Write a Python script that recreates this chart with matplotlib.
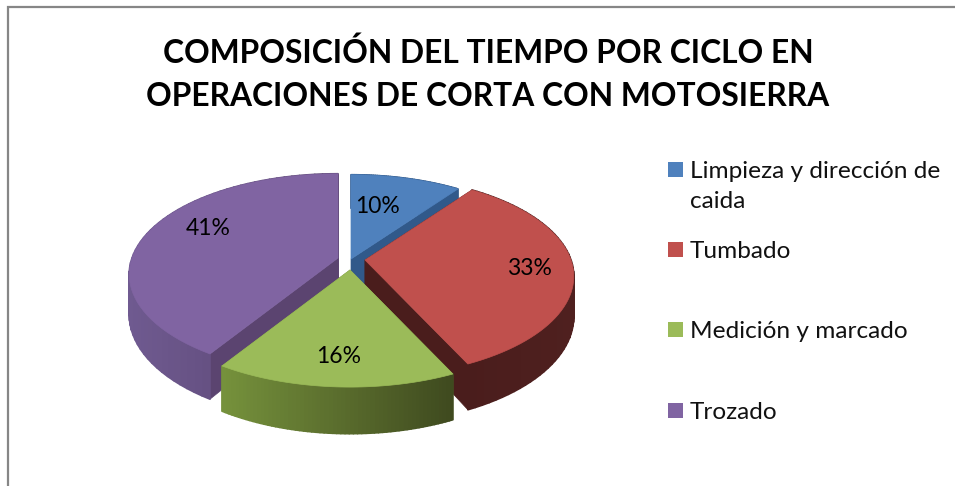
import numpy as np
import matplotlib
matplotlib.use('Agg')
import matplotlib.pyplot as plt
from matplotlib.colors import to_rgb
from matplotlib.collections import PolyCollection
from matplotlib.patches import Rectangle

title = 'COMPOSICIÓN DEL TIEMPO POR CICLO EN\nOPERACIONES DE CORTA CON MOTOSIERRA'
categories = ['Limpieza y dirección de\ncaida', 'Tumbado', 'Medición y marcado', 'Trozado']
values = [10, 33, 16, 41]

# look of the fake 3d pie
colors = ['#4f81bd', '#c0504d', '#9bbb59', '#8064a2']
wall_colors = ['#31598a', '#4a1d1c', '#6f8a3f', '#5b4470']
outer_left = ['#31598a', '#4a1d1c', '#76923c', '#6f5a90']
outer_right = ['#31598a', '#4f201f', '#3f4a1f', '#59446f']
apexes = [(351, 259), (365, 260), (350, 270), (338, 258)]  # exploded centres
label_pos = [(377, 206), (529, 268), (339, 356), (208, 228)]
legend_y = [170, 250, 330, 411]
RX, RY, PERSP, DEPTH = 206, 98, 0.163, 39


def project(theta, r, apex, drop=0.0):
    # theta clockwise from the top, r 0..1
    x = r * np.sin(theta)
    y = -r * np.cos(theta)
    f = 1 / (1 - PERSP * y)
    return apex[0] + RX * x * f, apex[1] + RY * y * f + drop * f


fig = plt.figure(figsize=(9.55, 4.86), dpi=100)
ax = fig.add_axes([0, 0, 1, 1])
ax.set_xlim(0, 955)
ax.set_ylim(486, 0)
ax.axis('off')

# chart frame
ax.plot([8, 8, 955], [486, 7, 7], color='#868686', lw=1.6, solid_joinstyle='miter')

edges = np.deg2rad(np.cumsum([0] + values) * 3.6)
slices = []
for i in range(len(values)):
    slices.append((i, edges[i], edges[i + 1]))

# back to front
for i, start, stop in [slices[0], slices[3], slices[1], slices[2]]:
    apex = apexes[i]
    th = np.linspace(start, stop, 60)
    top_x, top_y = project(th, 1, apex)
    low_x, low_y = project(th, 1, apex, DEPTH)

    # radial walls
    for edge in (start, stop):
        ex, ey = project(edge, 1, apex)
        bx, by = project(edge, 1, apex, DEPTH)
        cx, cy = project(edge, 0, apex, DEPTH)
        ax.fill([apex[0], ex, bx, cx], [apex[1], ey, by, cy], color=wall_colors[i], lw=0.5, zorder=2)

    # outer wall, shaded from left to right
    quads = []
    shades = []
    c0 = np.array(to_rgb(outer_left[i]))
    c1 = np.array(to_rgb(outer_right[i]))
    for k in range(len(th) - 1):
        quads.append([(top_x[k], top_y[k]), (top_x[k + 1], top_y[k + 1]),
                      (low_x[k + 1], low_y[k + 1]), (low_x[k], low_y[k])])
        t = (top_x[k] - top_x.min()) / (top_x.max() - top_x.min())
        shades.append(c0 + (c1 - c0) * t)
    ax.add_collection(PolyCollection(quads, facecolors=shades, edgecolors=shades, linewidths=1.2, zorder=2))

    ax.fill(np.r_[apex[0], top_x], np.r_[apex[1], top_y], color=colors[i], lw=0.5, zorder=2)

for v, (x, y) in zip(values, label_pos):
    ax.text(x, y, '%d%%' % v, ha='center', va='center', fontsize=16.5, family='Lato', color='black', zorder=5)

ax.text(488, 74, title, ha='center', va='center', fontsize=22.9, family='Lato', fontweight='bold',
        color='black', linespacing=1.6)

for name, c, y in zip(categories, colors, legend_y):
    ax.add_patch(Rectangle((668, y - 8), 15, 15, facecolor=c, edgecolor='none', zorder=3))
    ax.text(690, y - 9, name, ha='left', va='top', fontsize=17.6, family='Lato', color='#111111', linespacing=1.5)

fig.savefig('out.png', dpi=100)
